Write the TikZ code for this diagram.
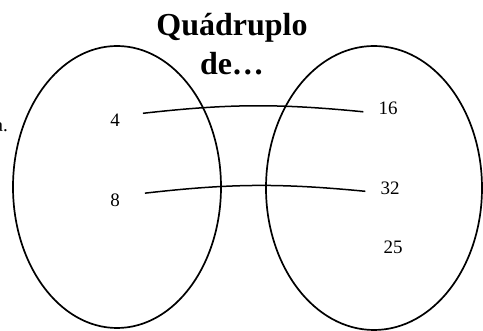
\documentclass[tikz,border=0pt]{standalone}
\usepackage{fontspec}
\setmainfont{Liberation Serif}
\usetikzlibrary{positioning}

\begin{document}
\begin{tikzpicture}[x=1pt, y=-1pt,
        conj/.style={draw, line width=1.7pt},
        num/.style={font=\fontsize{19}{22}\selectfont, inner sep=1pt, anchor=base},
        link/.style={line width=1.5pt}]
            \useasboundingbox (0,0) rectangle (483,331);

            % Sets
            \draw[conj] (117,187) ellipse [x radius=104, y radius=141];
            \draw[conj] (374,188) ellipse [x radius=108, y radius=142];

            % Title
            \node[font=\bfseries\fontsize{32}{39}\selectfont, align=center, anchor=base] (titulo) at (232,75) {Quádruplo\\de…};
            \node[num, anchor=base east] (corte) at (9,132) {a.};

            % Elements
            \node[num] (n4) at (115,127) {4};
            \node[num] (n8) at (115,207) {8};
            \node[num] (n16) at (388,115) {16};
            \node[num] (n32) at (390,195) {32};
            \node[num] (n25) at (393,254) {25};

            % Relation
            \draw[link] ([xshift=22pt]n4.north east) to[bend left=6] ([xshift=-14pt, yshift=-3pt]n16.west);
            \draw[link] ([xshift=24pt]n8.north east) to[bend left=6] ([xshift=-14pt, yshift=-2.5pt]n32.west);
        \end{tikzpicture}
\end{document}
